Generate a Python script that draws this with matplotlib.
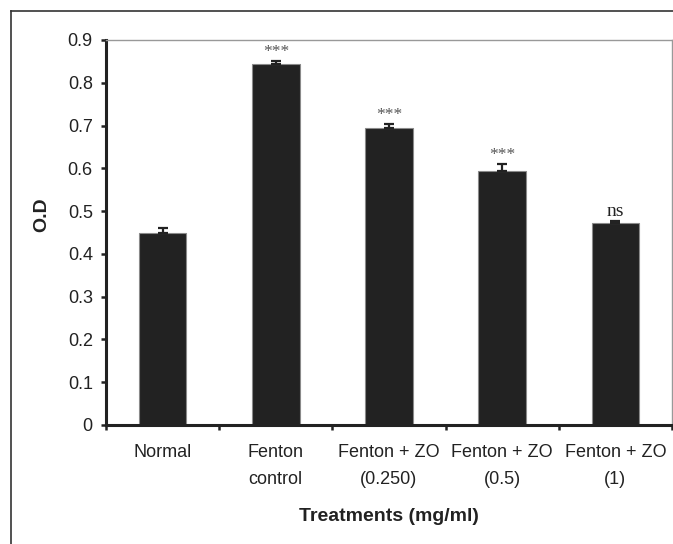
import numpy as np
import matplotlib
matplotlib.use('Agg')
import matplotlib.pyplot as plt
from matplotlib.lines import Line2D

# data
categories = ['Normal', 'Fenton\ncontrol', 'Fenton + ZO\n(0.250)', 'Fenton + ZO\n(0.5)', 'Fenton + ZO\n(1)']
od_values = [0.448, 0.845, 0.695, 0.594, 0.472]
od_errors = [0.012, 0.006, 0.009, 0.015, 0.006]
signif = ['', '***', '***', '***', 'ns']
yticks = [0, 0.1, 0.2, 0.3, 0.4, 0.5, 0.6, 0.7, 0.8, 0.9]

plt.rcParams['font.family'] = ['Liberation Sans', 'DejaVu Sans']

fig = plt.figure(figsize=(6.73, 5.44), dpi=100)
ax = fig.add_axes([0.1575, 0.2188, 0.841, 0.7077])

x = np.arange(len(categories))
ax.bar(x, od_values, width=0.42, color='#222222', edgecolor='#8a8a8a', linewidth=0.8, zorder=2)
ax.errorbar(x, od_values, yerr=[np.zeros(len(od_errors)), od_errors], fmt='none',
            ecolor='#222222', elinewidth=1.6, capsize=3.3, capthick=1.6, zorder=3)

for xi, v, e, s in zip(x, od_values, od_errors, signif):
    if s == '***':
        ax.text(xi, v + e + 0.003, s, ha='center', va='bottom', family='Liberation Serif',
                fontsize=12.5, color='#555555')
    elif s:
        ax.text(xi, v + e + 0.001, s, ha='center', va='bottom', family='Liberation Serif',
                fontsize=14, color='#222222')

ax.set_xlim(-0.5, len(categories) - 0.5)
ax.set_ylim(0, 0.9)
ax.set_yticks(yticks)
ax.set_yticklabels(['0' if t == 0 else f'{t:.1f}' for t in yticks])
ax.set_xticks(np.arange(-0.5, len(categories), 1.0))
ax.set_xticklabels([])
ax.set_xticks(x, minor=True)
ax.set_xticklabels(categories, minor=True, fontsize=13, color='#222222', linespacing=1.75)
ax.tick_params(axis='x', which='minor', length=0, pad=14)
ax.tick_params(axis='x', which='major', length=3.5, width=1.8, color='#222222')
ax.tick_params(axis='y', length=3.5, width=1.8, color='#222222', labelsize=13,
               labelcolor='#222222', pad=6)

for side in ['left', 'bottom']:
    ax.spines[side].set_linewidth(2.2)
    ax.spines[side].set_color('#222222')
for side in ['top', 'right']:
    ax.spines[side].set_linewidth(1.0)
    ax.spines[side].set_color('#999999')

ax.set_xlabel('Treatments (mg/ml)', fontsize=14, fontweight='bold', color='#222222', labelpad=14)
fig.text(0.062, 0.605, 'O.D', rotation=90, ha='center', va='center', fontsize=14,
         fontweight='bold', color='#222222')

# outer frame (top and left edges visible)
fig.add_artist(Line2D([11 / 673, 1.0], [1 - 11 / 544, 1 - 11 / 544], transform=fig.transFigure,
                      color='#333333', linewidth=1.2))
fig.add_artist(Line2D([11 / 673, 11 / 673], [0.0, 1 - 11 / 544], transform=fig.transFigure,
                      color='#333333', linewidth=1.2))

fig.savefig('out.png', dpi=100)
